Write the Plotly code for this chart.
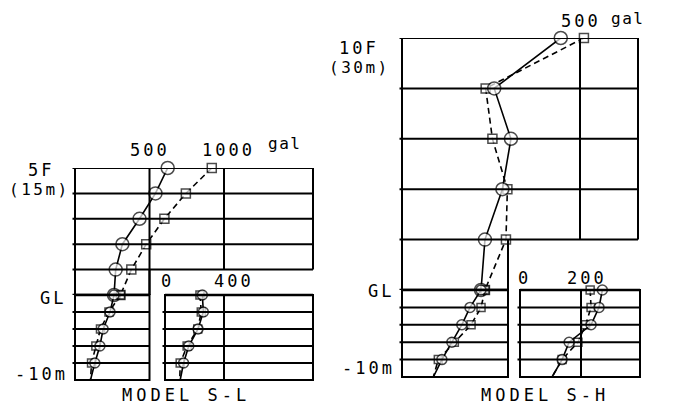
import plotly.graph_objects as go

W, H = 689, 414
OFF = 8  # default page margin around the plot
FW, FH = W - 2 * OFF, H - 2 * OFF

# ---------------- data (gal) ----------------
# MODEL S-L : building (5F = 15 m), storey lines every 3 m
sl_levels = [15, 12, 9, 6, 3, 0]
sl_bld_circle = [622, 540, 433, 318, 273, 262]
sl_bld_square = [918, 744, 600, 478, 378, 305]
# ground, depth in m
depths = [0, -2, -4, -6, -8, -10]
sl_gl_circle = [262, 235, 189, 167, 133, 104]
sl_gl_square = [305, 228, 171, 140, 111, 104]
sl_gr_circle = [253, 260, 224, 161, 126, 103]
sl_gr_square = [237, 246, 222, 150, 103, 100]

# MODEL S-H : building (10F = 30 m), lines every 6 m
sh_levels = [30, 24, 18, 12, 6, 0]
sh_bld_circle = [446, 259, 306, 282, 233, 222]
sh_bld_square = [511, 235, 254, 296, 292, 233]
sh_gl_circle = [222, 191, 168, 140, 112, 88]
sh_gl_square = [233, 222, 194, 147, 102, 88]
sh_gr_circle = [270, 259, 233, 161, 138, 105]
sh_gr_square = [230, 233, 215, 190, 138, 105]

sl_bld_ticks = [500, 1000]
sl_gr_ticks = [400]
sh_bld_ticks = [500]
sh_gr_ticks = [200]
ground_lines = [-2, -4, -6, -8]

FONT = "DejaVu Sans Mono"


def px(x):
    return (x - OFF) / FW


def py(y):
    return 1 - (y - OFF) / FH


fig = go.Figure()
layout = dict(width=FW, height=FH, margin=dict(l=0, r=0, t=0, b=0, pad=0),
              paper_bgcolor="white", plot_bgcolor="rgba(0,0,0,0)",
              showlegend=False)

widths = {}


def axname(n):
    return "" if n == 1 else str(n)


def add_axes(n, x0, x1, zero_px, unit_px, unit_val, ytop, ybot, yrange):
    k = (unit_px - zero_px) / unit_val
    xr = [(x0 - zero_px) / k, (x1 - zero_px) / k]
    s = axname(n)
    widths[n] = x1 - x0
    layout["xaxis" + s] = dict(domain=[px(x0), px(x1)], range=xr, visible=False,
                               anchor="y" + s, fixedrange=True)
    layout["yaxis" + s] = dict(domain=[py(ybot), py(ytop)], range=yrange,
                               visible=False, anchor="x" + s, fixedrange=True)


# S-L
add_axes(1, 75, 313, 75, 149.5, 500, 168, 295, [0, 15])
add_axes(2, 75, 149.5, 75, 149.5, 500, 295, 380, [-10, 0])
add_axes(3, 165, 313, 165, 224, 400, 295, 380, [-10, 0])
# S-H
add_axes(4, 402, 638, 402, 580, 500, 38, 290, [0, 30])
add_axes(5, 402, 508, 402, 580, 500, 290, 377, [-10, 0])
add_axes(6, 520, 640, 520, 581, 200, 290, 377, [-10, 0])

shapes = []
LW = 2
STUB = 2.5  # px that storey lines stick out left of the frame


def line(xref, x0, x1, yref, y0, y1, w=LW):
    shapes.append(dict(type="line", xref=xref, yref=yref, x0=x0, x1=x1,
                       y0=y0, y1=y1, line=dict(color="black", width=w)))


def building_frame(n, gl, levels, ticks, gl_max):
    s, g = axname(n), axname(gl)
    top = levels[0]
    first = levels[-2]
    stub = -STUB / widths[n]
    line("x" + s + " domain", 0, 0, "y" + s, 0, top)
    for lv in levels[:-1]:
        line("x" + s + " domain", stub, 1, "y" + s, lv, lv)
    line("x" + g + " domain", -STUB / widths[gl], 1, "y" + s, 0, 0, 2.6)
    line("x" + s + " domain", 1, 1, "y" + s, first, top)
    line("x" + g + " domain", 1, 1, "y" + s, 0, first)
    for t in ticks:
        y0 = 0 if t <= gl_max else first
        line("x" + s, t, t, "y" + s, y0, top)


def ground_frame(n, ticks):
    s = axname(n)
    stub = -STUB / widths[n]
    shapes.append(dict(type="rect", xref="x" + s + " domain", yref="y" + s + " domain",
                       x0=0, x1=1, y0=0, y1=1, line=dict(color="black", width=LW)))
    line("x" + s + " domain", 0, 1, "y" + s + " domain", 1, 1, 2.6)
    for d in ground_lines:
        line("x" + s + " domain", stub, 1, "y" + s, d, d)
    for t in ticks:
        line("x" + s, t, t, "y" + s + " domain", 0, 1)


building_frame(1, 2, sl_levels, sl_bld_ticks, 500)
ground_frame(2, [])
ground_frame(3, sl_gr_ticks)
building_frame(4, 5, sh_levels, sh_bld_ticks, 298)
ground_frame(5, [])
ground_frame(6, sh_gr_ticks)


def add_pair(n, ys, circ, sq, big, end_free):
    s = axname(n)
    csize, ssize = (13, 9) if big else (10, 8)
    cnt = len(ys)
    cs = [csize] * cnt
    ss = [ssize] * cnt
    if end_free:
        cs[-1] = 0
        ss[-1] = 0
    fig.add_trace(go.Scatter(x=sq, y=ys, xaxis="x" + s, yaxis="y" + s,
                             mode="lines+markers", cliponaxis=False,
                             line=dict(color="black", width=1.6, dash="6px,4px"),
                             marker=dict(symbol="square", size=ss, color="white",
                                         line=dict(color="black", width=1.5))))
    fig.add_trace(go.Scatter(x=circ, y=ys, xaxis="x" + s, yaxis="y" + s,
                             mode="lines+markers", cliponaxis=False,
                             line=dict(color="black", width=1.6),
                             marker=dict(symbol="circle", size=cs, color="white",
                                         line=dict(color="black", width=1.5))))


add_pair(1, sl_levels, sl_bld_circle, sl_bld_square, True, False)
add_pair(2, depths, sl_gl_circle, sl_gl_square, False, True)
add_pair(3, depths, sl_gr_circle, sl_gr_square, False, True)
add_pair(4, sh_levels, sh_bld_circle, sh_bld_square, True, False)
add_pair(5, depths, sh_gl_circle, sh_gl_square, False, True)
add_pair(6, depths, sh_gr_circle, sh_gr_square, False, True)

ann = []


def sp(t, ls=3.0):
    return '<span style="letter-spacing:%spx">%s</span>' % (ls, t)


def text_px(t, x, y, size=17, anchor="center", ls=3.0):
    ann.append(dict(text=sp(t, ls), x=px(x), y=py(y), xref="paper", yref="paper",
                    xanchor=anchor, yanchor="middle", showarrow=False, borderpad=0,
                    font=dict(family=FONT, size=size, color="black")))


def text_tick(t, axis, val, y, shift=0, size=17):
    ann.append(dict(text=sp(t), x=val, xref=axis, y=py(y), yref="paper",
                    xanchor="center", yanchor="middle", xshift=shift, showarrow=False,
                    borderpad=0, font=dict(family=FONT, size=size, color="black")))


# S-L labels
text_tick("500", "x", sl_bld_ticks[0], 150, 0)
text_tick("1000", "x", sl_bld_ticks[1], 150, 4)
text_px("gal", 284, 143, 16, ls=1.5)
text_tick("0", "x3", 0, 281, 2)
text_tick("400", "x3", sl_gr_ticks[0], 281, 10)
text_px("5F", 41, 170)
text_px("(15m)", 39, 189, 16, ls=2.5)
text_px("GL", 53, 298)
text_px("-10m", 41, 374)
text_px("MODEL S-L", 186, 395, ls=4)

# S-H labels
text_tick("500", "x4", sh_bld_ticks[0], 21, 1)
text_px("gal", 627, 18, 16, ls=1.5)
text_tick("0", "x6", 0, 278, 4)
text_tick("200", "x6", sh_gr_ticks[0], 278, 6)
text_px("10F", 359, 48)
text_px("(30m)", 359, 68, 16, ls=2.5)
text_px("GL", 381, 291)
text_px("-10m", 368, 368)
text_px("MODEL S-H", 545, 395, ls=4)

layout["shapes"] = shapes
layout["annotations"] = ann
fig.update_layout(**layout)
fig.write_html("out.html")
